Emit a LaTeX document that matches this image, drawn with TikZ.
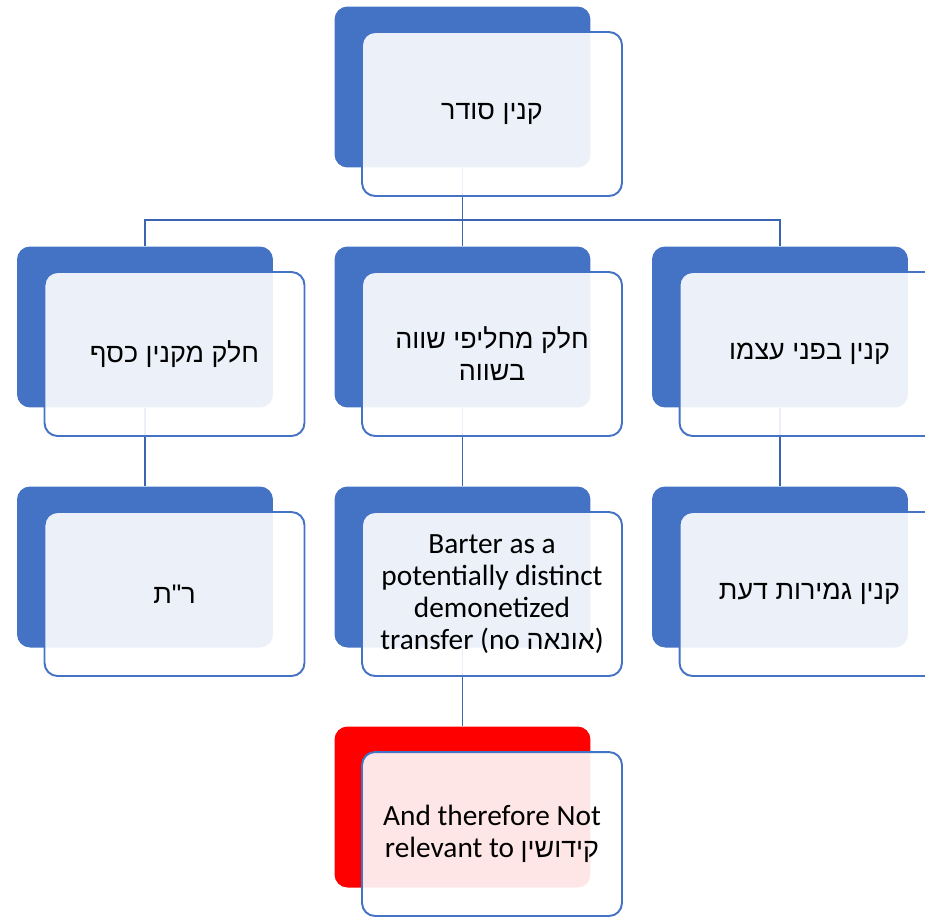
\documentclass[tikz,border=0pt]{standalone}
\usepackage{fontspec}
\setmainfont{Carlito}
\newfontfamily\hebfont[Script=Hebrew]{Liberation Sans}
\TeXXeTstate=1
\usetikzlibrary{positioning}
\definecolor{boxblue}{HTML}{4472C4}
\definecolor{linkblue}{HTML}{3B65B0}
\definecolor{boxred}{HTML}{FF0000}
\newcommand{\heb}[1]{{\hebfont\fontsize{15.3}{18.3}\selectfont\beginR #1\endR}}

\begin{document}
\begin{tikzpicture}[x=0.02cm,y=-0.02cm,
    backbox/.style={fill=boxblue, rounded corners=0.26cm, minimum width=5.12cm, minimum height=3.22cm, inner sep=0pt},
    redbox/.style={backbox, fill=boxred},
    frontbox/.style={draw=boxblue, line width=1.1pt, fill=white, fill opacity=0.9, text opacity=1,
        rounded corners=0.26cm, minimum width=5.2cm, minimum height=3.28cm, align=center,
        font=\fontsize{16.7}{18.3}\selectfont},
    link/.style={draw=linkblue, line width=0.9pt}]
    \useasboundingbox (0,0) rectangle (925,917);
    % back boxes
    \node[backbox] (sodarB) at (462.5,87) {};
    \node[backbox] (kesefB) at (145,327) {};
    \node[backbox] (chalifinB) at (462.5,327) {};
    \node[backbox] (atzmoB) at (780,327) {};
    \node[backbox] (rtB) at (145,567) {};
    \node[backbox] (barterB) at (462.5,567) {};
    \node[backbox] (gemirutB) at (780,567) {};
    \node[redbox] (kiddushinB) at (462.5,807) {};
    % connectors, under the front boxes
    \coordinate (bus) at (462.5,220);
    \draw[link] (sodarB.south) -- (bus);
    \draw[link] (bus) -| (kesefB.north);
    \draw[link] (bus) -| (atzmoB.north);
    \draw[link] (bus) -- (chalifinB.north);
    \draw[link] (kesefB.south) -- (rtB.north);
    \draw[link] (chalifinB.south) -- (barterB.north);
    \draw[link] (atzmoB.south) -- (gemirutB.north);
    \draw[link] (barterB.south) -- (kiddushinB.north);
    % front boxes with the texts
    \node[frontbox] (sodar) at (492,114) {\heb{קנין סודר}};
    \node[frontbox] (kesef) at (174.5,354) {\heb{חלק מקנין כסף}};
    \node[frontbox] (chalifin) at (492,354) {\heb{חלק מחליפי שווה}\\\heb{בשווה}};
    \node[frontbox] (atzmo) at (809.5,354) {\heb{קנין בפני עצמו}};
    \node[frontbox] (rt) at (174.5,594) {\heb{ר"ת}};
    \node[frontbox] (barter) at (492,594) {Barter as a\\potentially distinct\\demonetized\\transfer (no \heb{אונאה})};
    \node[frontbox] (gemirut) at (809.5,594) {\heb{קנין גמירות דעת}};
    \node[frontbox] (kiddushin) at (492,834) {And therefore Not\\relevant to \heb{קידושין}};
\end{tikzpicture}
\end{document}
